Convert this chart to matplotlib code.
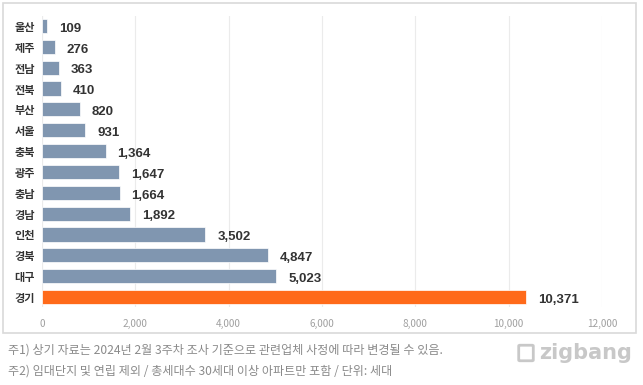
import matplotlib
matplotlib.use("Agg")
import matplotlib.pyplot as plt
from matplotlib.patches import Rectangle, FancyBboxPatch

plt.rcParams['font.family'] = ['Noto Sans CJK KR', 'DejaVu Sans']

regions = ['울산', '제주', '전남', '전북', '부산', '서울', '충북', '광주', '충남', '경남', '인천', '경북', '대구', '경기']
values = [109, 276, 363, 410, 820, 931, 1364, 1647, 1664, 1892, 3502, 4847, 5023, 10371]
xticks = [0, 2000, 4000, 6000, 8000, 10000, 12000]
note1 = '주1) 상기 자료는 2024년 2월 3주차 조사 기준으로 관련업체 사정에 따라 변경될 수 있음.'
note2 = '주2) 임대단지 및 연립 제외 / 총세대수 30세대 이상 아파트만 포함 / 단위: 세대'

W, H = 643, 385
fig = plt.figure(figsize=(W/100, H/100), dpi=100)
fig.patch.set_facecolor('white')

# outer box
fig.add_artist(Rectangle((3/W, 1-333/H), 633/W, 330/H, transform=fig.transFigure,
                         fill=False, edgecolor='#d9d9d9', linewidth=1.2))

ax = fig.add_axes([42/W, 1-307.4/H, 560/W, (307.4-15.6)/H])
colors = ['#8096b0'] * (len(values) - 1) + ['#ff6a1a']
ypos = list(range(len(values)))
ax.barh(ypos, values, height=0.68, color=colors, edgecolor='white', linewidth=0.5, zorder=3)
ax.set_ylim(len(values) - 0.5, -0.5)
ax.set_xlim(0, 12000)
ax.set_xticks(xticks)
ax.set_xticklabels([f'{t:,}' for t in xticks], color='#a0a0a0', fontsize=7.2)
ax.tick_params(axis='x', length=0, pad=8)
ax.set_yticks(ypos)
ax.set_yticklabels(regions, fontsize=8, fontweight='bold', color='#333333')
ax.tick_params(axis='y', length=0, pad=5)
for s in ax.spines.values():
    s.set_visible(False)
ax.grid(axis='x', color='#ebebeb', linewidth=0.8, zorder=0)
ax.axvline(0, color='#e0e0e0', linewidth=0.8, zorder=1)
for y, v in zip(ypos, values):
    ax.annotate(f'{v:,}', (v, y), xytext=(8.5, -2), textcoords='offset points',
                va='center', ha='left', fontsize=9.5, fontweight='bold', color='#333333',
                family=['Liberation Sans'])

fig.text(8/W, 1-350/H, note1, fontsize=8.7, color='#8a8a8a', va='center', ha='left')
fig.text(8/W, 1-371/H, note2, fontsize=8.7, color='#8a8a8a', va='center', ha='left')

# logo
fig.text(632/W, 1-353/H, 'zigbang', fontsize=15, fontweight='bold', color='#c8c8c8',
         va='center', ha='right', family=['DejaVu Sans'])
fig.add_artist(FancyBboxPatch((520/W, 1-360/H), 12/W, 14/H, transform=fig.transFigure,
                              boxstyle='round,pad=0.002', fill=False, edgecolor='#c8c8c8', linewidth=2))

fig.savefig('out.png', dpi=100)
